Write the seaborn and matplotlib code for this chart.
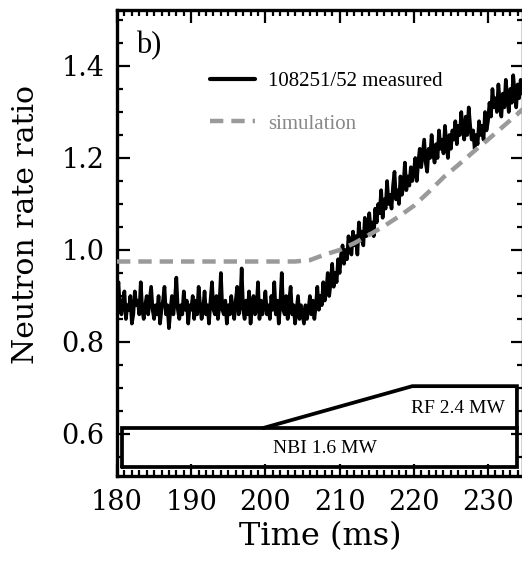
import numpy as np
import pandas as pd
import seaborn as sns
import matplotlib
matplotlib.use("Agg")
import matplotlib.pyplot as plt
from matplotlib.ticker import MultipleLocator

# ---------------- data ----------------
t_start = 180.0
t_step = 0.2
measured = [
    0.90, 0.93, 0.87, 0.86, 0.89, 0.91, 0.85, 0.88, 0.87, 0.90, 0.84, 0.86, 0.91, 0.88, 0.89, 0.86, 0.93, 0.87, 0.85, 0.88, 0.90, 0.86, 0.89, 0.92, 0.87,
    0.85, 0.88, 0.86, 0.90, 0.84, 0.87, 0.89, 0.92, 0.86, 0.88, 0.83, 0.87, 0.90, 0.86, 0.89, 0.94, 0.87, 0.85, 0.88, 0.86, 0.91, 0.87, 0.89, 0.84, 0.88,
    0.87, 0.90, 0.85, 0.89, 0.86, 0.92, 0.88, 0.85, 0.87, 0.91, 0.86, 0.88, 0.84, 0.89, 0.93, 0.87, 0.86, 0.90, 0.85, 0.88, 0.95, 0.87, 0.86, 0.89, 0.84,
    0.88, 0.86, 0.90, 0.87, 0.85, 0.89, 0.92, 0.86, 0.88, 0.96, 0.87, 0.85, 0.89, 0.86, 0.91, 0.84, 0.88, 0.90, 0.86, 0.87, 0.93, 0.85, 0.89, 0.86, 0.88,
    0.91, 0.86, 0.88, 0.85, 0.90, 0.87, 0.93, 0.86, 0.89, 0.84, 0.88, 0.95, 0.87, 0.86, 0.90, 0.85, 0.89, 0.92, 0.86, 0.88, 0.84, 0.87, 0.90, 0.85, 0.88,
    0.86, 0.84, 0.88, 0.85, 0.87, 0.90, 0.86, 0.89, 0.85, 0.88, 0.92, 0.87, 0.90, 0.88, 0.93, 0.89, 0.91, 0.95, 0.90, 0.93, 0.97, 0.92, 0.95, 0.93, 0.98,
    0.95, 0.99, 1.01, 0.97, 1.00, 0.98, 1.03, 1.00, 0.99, 1.04, 1.01, 1.03, 0.99, 1.06, 1.02, 1.04, 1.01, 1.07, 1.03, 1.05, 1.08, 1.04, 1.06, 1.03, 1.09,
    1.06, 1.10, 1.08, 1.13, 1.07, 1.11, 1.09, 1.15, 1.10, 1.12, 1.09, 1.14, 1.17, 1.11, 1.13, 1.10, 1.16, 1.12, 1.14, 1.19, 1.13, 1.16, 1.14, 1.18, 1.15,
    1.17, 1.20, 1.15, 1.19, 1.22, 1.18, 1.21, 1.24, 1.19, 1.17, 1.22, 1.20, 1.25, 1.21, 1.19, 1.23, 1.20, 1.26, 1.22, 1.24, 1.21, 1.27, 1.23, 1.20, 1.25,
    1.22, 1.26, 1.24, 1.28, 1.23, 1.27, 1.25, 1.30, 1.26, 1.24, 1.29, 1.25, 1.31, 1.27, 1.24, 1.26, 1.22, 1.25, 1.23, 1.28, 1.25, 1.27, 1.24, 1.30, 1.26,
    1.28, 1.32, 1.29, 1.35, 1.31, 1.33, 1.30, 1.36, 1.32, 1.29, 1.34, 1.31, 1.37, 1.33, 1.30, 1.35, 1.32, 1.38, 1.34, 1.31, 1.36, 1.33, 1.37, 1.34, 1.36,
]
time_measured = [round(t_start + i * t_step, 2) for i in range(len(measured))]

time_sim = [180, 204, 206, 208, 210, 212, 214, 216, 218, 220, 222, 224, 226, 228, 230, 232, 234, 235]
simulation = [0.975, 0.975, 0.978, 0.990, 1.000, 1.015, 1.033, 1.052, 1.073, 1.096, 1.126,
              1.158, 1.185, 1.213, 1.240, 1.268, 1.296, 1.311]

# heating waveforms (schematic boxes)
nbi_time = [180.7, 233.9]
nbi_level = [0.528, 0.613]
rf_time = [199.7, 219.8, 233.9]
rf_level = [0.613, 0.704]

xticks = [180, 190, 200, 210, 220, 230]
yticks = [0.6, 0.8, 1.0, 1.2, 1.4]

# ---------------- figure ----------------
sns.set_theme(style="ticks")
plt.rcParams["font.family"] = ["DejaVu Serif"]

W, H = 522, 566
fig = plt.figure(figsize=(W / 100, H / 100), dpi=100)
left_px, right_px, top_px, bot_px = 117, 523, 10, 476
ax = fig.add_axes([left_px / W, 1 - bot_px / H, (right_px - left_px) / W, (bot_px - top_px) / H])

df_m = pd.DataFrame({"Time": time_measured, "ratio": measured})
df_s = pd.DataFrame({"Time": time_sim, "ratio": simulation})

sns.lineplot(data=df_m, x="Time", y="ratio", ax=ax, color="black", lw=2.6,
             label="108251/52 measured", zorder=3)
sns.lineplot(data=df_s, x="Time", y="ratio", ax=ax, color="#9a9a9a", lw=3.2,
             label="simulation", zorder=4)
ax.lines[1].set_dashes([3.0, 1.8])
ax.lines[1].set_dash_capstyle("butt")

# NBI box
nb_x = [nbi_time[0], nbi_time[1], nbi_time[1], nbi_time[0], nbi_time[0]]
nb_y = [nbi_level[0], nbi_level[0], nbi_level[1], nbi_level[1], nbi_level[0]]
ax.plot(nb_x, nb_y, color="black", lw=2.7, solid_joinstyle="miter", zorder=5)
# RF ramp
rf_x = [rf_time[0], rf_time[1], rf_time[2], rf_time[2]]
rf_y = [rf_level[0], rf_level[1], rf_level[1], rf_level[0]]
ax.plot(rf_x, rf_y, color="black", lw=2.7, solid_joinstyle="miter", zorder=5)

ax.text(226.0, 0.655, "RF 2.4 MW", family="Liberation Serif", fontsize=14,
        ha="center", va="center", color="black")
ax.text(208.0, 0.568, "NBI 1.6 MW", family="Liberation Serif", fontsize=14,
        ha="center", va="center", color="black")
ax.text(182.5, 1.445, "b)", family="Liberation Serif", fontsize=22,
        ha="left", va="center", color="black")

ax.set_xlim(180, 180 + (right_px - left_px) / 7.42)
ax.set_ylim(0.6 - 42 / 460, 1.4 + 56 / 460)
ax.set_xticks(xticks)
ax.set_yticks(yticks)
ax.set_yticklabels([f"{v:.1f}" for v in yticks])
ax.xaxis.set_minor_locator(MultipleLocator(1))
ax.yaxis.set_minor_locator(MultipleLocator(0.05))
ax.tick_params(which="both", direction="in", top=True, right=True, color="black",
               labelsize=19.5, labelcolor="black", width=1.6, pad=9)
ax.tick_params(which="major", length=9)
ax.tick_params(which="minor", length=4.5)
for s in ax.spines.values():
    s.set_visible(True)
    s.set_linewidth(2.4)
    s.set_color("black")

ax.set_xlabel("Time (ms)", fontsize=23, color="black")
ax.set_ylabel("Neutron rate ratio", fontsize=21.5, color="black")
ax.xaxis.set_label_coords(0.5, -0.097)
ax.yaxis.set_label_coords(-0.19, 0.54)

leg = ax.legend(loc="upper left", bbox_to_anchor=(0.229, 0.868), frameon=False,
                prop={"family": "Liberation Serif", "size": 15},
                handlelength=2.15, handletextpad=0.62, labelspacing=1.1,
                borderpad=0, borderaxespad=0)
for txt, col in zip(leg.get_texts(), ["black", "#888888"]):
    txt.set_color(col)
leg.get_lines()[0].set_linewidth(3.0)
leg.get_lines()[1].set_linewidth(3.2)

fig.savefig("out.png", dpi=100)
